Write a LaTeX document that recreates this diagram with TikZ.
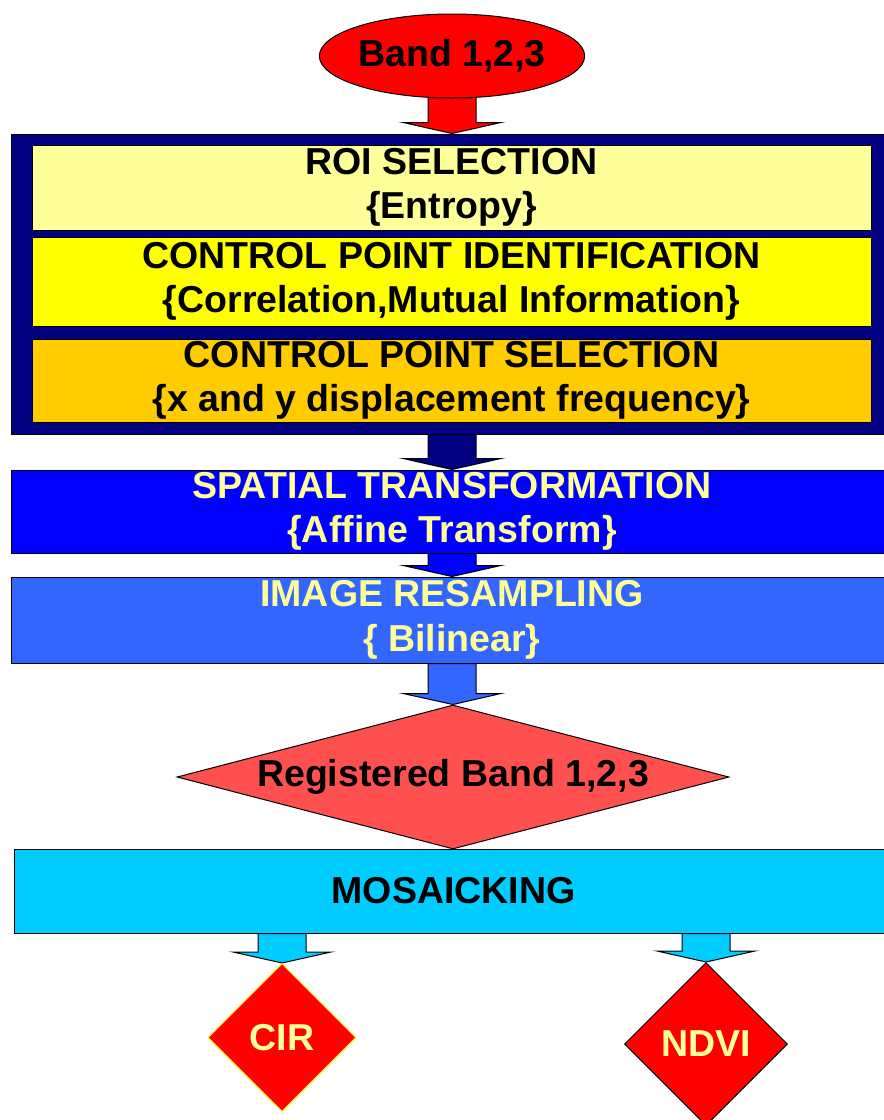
\documentclass[tikz,border=0pt]{standalone}
\usepackage{fontspec}
\setmainfont{Liberation Sans}
\usetikzlibrary{shapes.geometric,calc}
\pgfdeclarelayer{paper}
\pgfdeclarelayer{background}
\pgfsetlayers{paper,background,main}
\definecolor{navyc}{HTML}{000080}
\definecolor{lyellow}{HTML}{FFFF99}
\definecolor{yellowc}{HTML}{FFFF00}
\definecolor{orangec}{HTML}{FFCC00}
\definecolor{bluec}{HTML}{0000FF}
\definecolor{resc}{HTML}{3366FF}
\definecolor{regc}{HTML}{FF5050}
\definecolor{cyanc}{HTML}{00CCFF}
\definecolor{redc}{HTML}{FF0000}
\tikzset{
  lbl/.style={font=\bfseries\fontsize{37.5}{44.5}\selectfont, align=center, inner sep=0pt},
  box/.style={rectangle, draw=black, line width=1pt, lbl},
  dia/.style={diamond, draw=black, line width=1pt, lbl},
  barrow/.style={draw=black, line width=1pt},
}
\newcommand{\blockarrow}[3]{%
  \draw[barrow, fill=#1] let \p1=(#2), \p2=(#3) in
    (\x1-24pt,\y1) -- (\x1-24pt,\y2+11pt) -- (\x1-49pt,\y2+11pt) -- (\x2,\y2)
    -- (\x1+49pt,\y2+11pt) -- (\x1+24pt,\y2+11pt) -- (\x1+24pt,\y1) -- cycle;}
\begin{document}
\begin{tikzpicture}[x=1pt,y=-1pt]
\useasboundingbox (0,0) rectangle (884,1120);
\begin{pgfonlayer}{paper}
\fill[white] (0,0) rectangle (884,1120);
\end{pgfonlayer}
\begin{scope}
\clip (0,0) rectangle (884,1120);
\node[ellipse, draw=black, line width=1pt, fill=redc, lbl, minimum width=264pt, minimum height=84pt] (band) at (452,56) {Band 1,2,3};
\node[box, fill=navyc, minimum width=882pt, minimum height=300pt] (outer) at (452,284) {};
\node[box, fill=lyellow, minimum width=839pt, minimum height=85pt] (roi) at (451.5,187.5) {ROI SELECTION\\\{Entropy\}};
\node[box, fill=yellowc, minimum width=839pt, minimum height=89pt] (cpi) at (451.5,281.5) {CONTROL POINT IDENTIFICATION\\\{Correlation,Mutual Information\}};
\node[box, fill=orangec, minimum width=839pt, minimum height=83pt] (cps) at (451.5,380.5) {CONTROL POINT SELECTION\\\{x and y displacement frequency\}};
\node[box, fill=bluec, text=lyellow, minimum width=882pt, minimum height=83pt] (spat) at (452,511.5) {SPATIAL TRANSFORMATION\\\{Affine Transform\}};
\node[box, fill=resc, text=lyellow, minimum width=882pt, minimum height=86pt] (res) at (452,620) {IMAGE RESAMPLING\\\{ Bilinear\}};
\node[dia, fill=regc, aspect=3.833, minimum width=552pt, minimum height=144pt] (reg) at (453,777) {Registered Band 1,2,3};
\node[box, fill=cyanc, minimum width=879pt, minimum height=84pt] (mos) at (453.5,891) {MOSAICKING};
\node[dia, draw=yellow, fill=redc, text=lyellow, minimum width=148pt, minimum height=148pt] (cir) at (282,1037.5) {CIR};
\node[dia, fill=redc, text=lyellow, minimum width=163pt, minimum height=163pt] (ndvi) at (706,1044) {NDVI};
\end{scope}
\begin{pgfonlayer}{background}
\blockarrow{redc}{band.center}{outer.north}
\blockarrow{navyc}{outer.south}{spat.north}
\blockarrow{bluec}{spat.south}{res.north}
\blockarrow{resc}{res.south}{reg.north}
\blockarrow{cyanc}{mos.south -| cir.north}{cir.north}
\blockarrow{cyanc}{mos.south -| ndvi.north}{ndvi.north}
\end{pgfonlayer}
\end{tikzpicture}
\end{document}
